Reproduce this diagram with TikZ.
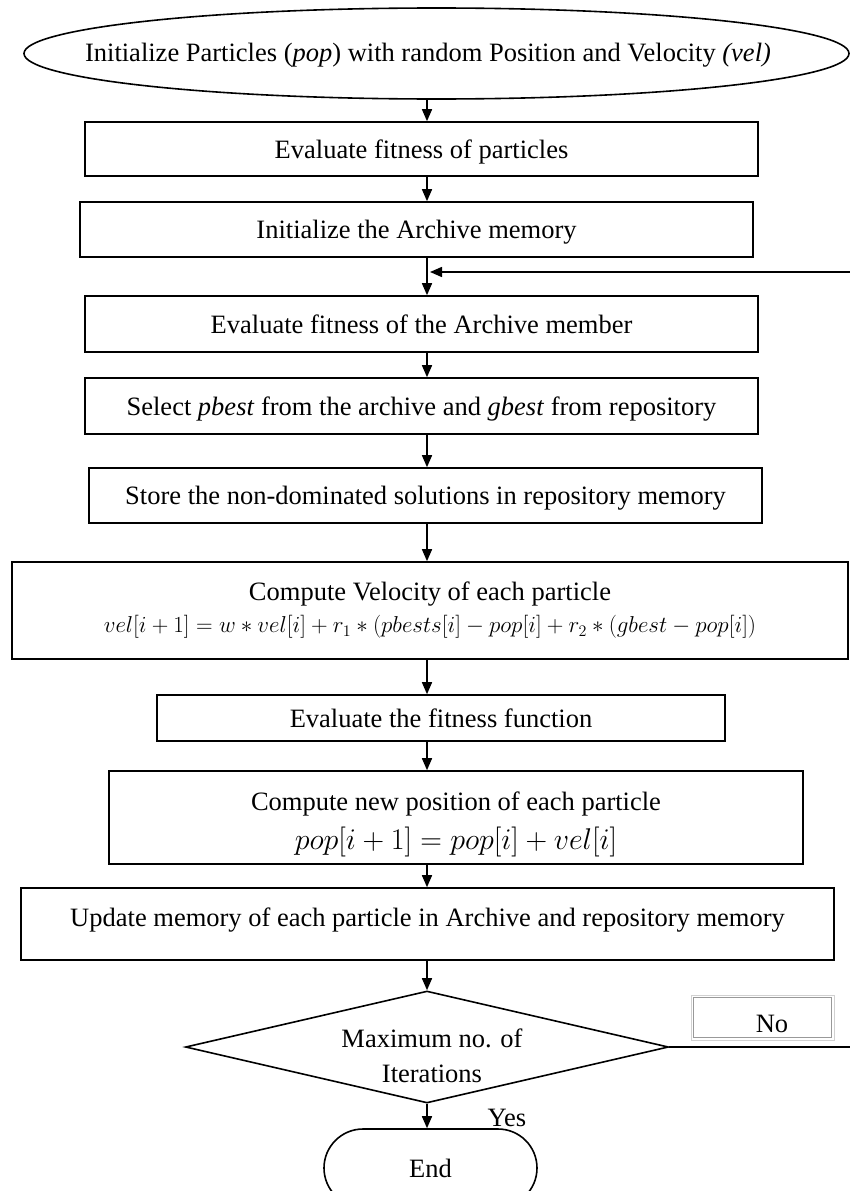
\RequirePackage{fix-cm}
\documentclass[tikz,border=0pt]{standalone}
\usepackage{fontspec}
\setmainfont{Liberation Serif}
\usetikzlibrary{shapes.geometric,shapes.misc,arrows.meta}
\begin{document}
\begin{tikzpicture}[x=1pt,y=-1pt,
  every node/.style={font=\fontsize{26.5}{33}\selectfont},
  procbox/.style={draw, line width=1.6pt, rectangle, inner sep=0pt, align=center},
  oneline/.style={text depth=0pt},
  arr/.style={line width=1.5pt, -{Triangle[length=12pt,width=10pt]}},
]
\useasboundingbox (0,0) rectangle (850,1191);
\coordinate (ax) at (427,0);
\node[draw, ellipse, line width=1.6pt, minimum width=825pt, minimum height=91pt, inner sep=0pt] (init) at (436.5,53.5) {};
\node (initt) at (428,55)
  {Initialize Particles (\textit{pop}) with random Position and Velocity \textit{(vel)}};
\node[procbox, oneline, minimum width=673pt, minimum height=54pt] (b1) at (421.5,149) {Evaluate fitness of particles};
\node[procbox, oneline, minimum width=673pt, minimum height=55pt] (b2) at (416.5,229.5) {Initialize the Archive memory};
\node[procbox, minimum width=673pt, minimum height=56pt] (b3) at (421.5,324) {Evaluate fitness of the Archive member};
\node[procbox, oneline, minimum width=673pt, minimum height=56pt] (b4) at (421.5,406) {Select \textit{pbest} from the archive and \textit{gbest} from repository};
\node[procbox, oneline, minimum width=673pt, minimum height=55pt] (b5) at (425.5,495.5) {Store the non-dominated solutions in repository memory};
\node[procbox, minimum width=836pt, minimum height=97pt] (b6) at (430,610.5)
  {Compute Velocity of each particle\\[-1pt]
   {\fontsize{23}{27}\selectfont $vel[i+1] = w \ast vel[i] + r_1 \ast (pbests[i] - pop[i] + r_2 \ast (gbest - pop[i])$}};
\node[procbox, oneline, minimum width=568pt, minimum height=46pt] (b7) at (441,718) {Evaluate the fitness function};
\node[procbox, minimum width=694pt, minimum height=93pt] (b8) at (456,817.5) {};
\node[align=center] (b8t) at (456,824)
  {Compute new position of each particle\\[6pt] {\fontsize{30}{34}\selectfont $pop[i+1] = pop[i] + vel[i]$}};
\node[procbox, text depth=14pt, minimum width=813pt, minimum height=72pt] (b9) at (427.5,924)
  {Update memory of each particle in Archive and repository memory};
\node[draw, diamond, aspect=4.3, line width=1.6pt, minimum width=483pt, minimum height=112pt, inner sep=0pt] (dec) at (427,1047) {};
\node[align=center] (dect) at (432,1056) {Maximum no. of\\[2pt]Iterations};
\node[draw, rounded rectangle, line width=1.6pt, minimum width=213pt, minimum height=78pt, inner sep=0pt] (end) at (430.5,1168) {End};
\node[draw=black!18, line width=1pt, minimum width=143pt, minimum height=45pt, inner sep=0pt] (nobox) at (762.5,1017.5) {};
\draw[black!40, line width=0.8pt] ([shift={(3pt,-3pt)}]nobox.north west) rectangle ([shift={(-3pt,3pt)}]nobox.south east);
\node (notext) at (772,1024) {No};
\node (yes) at (507,1118) {Yes};
\draw[arr] (init.south -| ax) -- (b1.north -| ax);
\draw[arr] (b1.south -| ax) -- (b2.north -| ax);
\draw[arr] (b2.south -| ax) -- (b3.north -| ax);
\draw[arr] (b3.south -| ax) -- (b4.north -| ax);
\draw[arr] (b4.south -| ax) -- (b5.north -| ax);
\draw[arr] (b5.south -| ax) -- (b6.north -| ax);
\draw[arr] (b6.south -| ax) -- (b7.north -| ax);
\draw[arr] (b7.south -| ax) -- (b8.north -| ax);
\draw[arr] (b8.south -| ax) -- (b9.north -| ax);
\draw[arr] (b9.south -| ax) -- (dec.north);
\draw[arr] (dec.south) -- (end.north -| ax);
\coordinate (fbr) at (853,1047);
\coordinate (fbt) at (853,272);
\coordinate (fbe) at (430,272);
\draw[arr] (dec.east) -- (fbr) -- (fbt) -- (fbe);
\end{tikzpicture}
\end{document}
